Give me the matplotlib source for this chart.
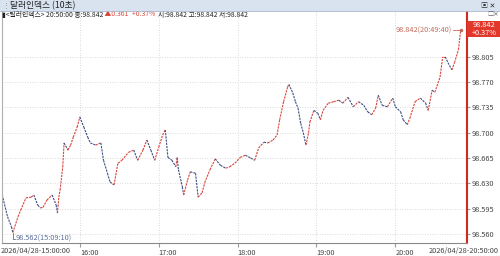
import matplotlib
matplotlib.use('Agg')
import matplotlib.pyplot as plt
from matplotlib.collections import LineCollection
from matplotlib.patches import Rectangle
import numpy as np

plt.rcParams['font.family'] = ['Noto Sans CJK KR', 'DejaVu Sans']

# minutes after 15:00
minutes = [1, 5, 8, 9, 13, 15, 19, 23, 25, 28, 30, 32, 35, 39, 42, 43, 44, 45, 47, 48,
           51, 53, 55, 58, 60, 63, 66, 68, 72, 76, 78, 81, 83, 86, 89, 92, 97, 101, 104, 108,
           111, 114, 117, 120, 123, 125, 127, 130, 133, 134, 135, 138, 139, 142, 144, 148, 150, 153, 155, 159,
           163, 167, 171, 174, 178, 182, 186, 190, 193, 196, 200, 203, 207, 210, 212, 215, 218, 219, 222, 224,
           226, 228, 230, 232, 234, 235, 238, 241, 243, 245, 249, 253, 257, 260, 264, 268, 272, 276, 279, 282,
           285, 287, 290, 294, 298, 300, 304, 306, 309, 311, 315, 319, 323, 325, 328, 330, 334, 336, 338, 340,
           343, 345, 348, 349.67]
prices = [98.614, 98.584, 98.570, 98.562, 98.584, 98.593, 98.610, 98.611, 98.614, 98.600,
          98.596, 98.597, 98.607, 98.614, 98.600, 98.589, 98.611, 98.621, 98.653, 98.686,
          98.676, 98.683, 98.694, 98.708, 98.722, 98.708, 98.694, 98.686, 98.683, 98.686,
          98.662, 98.644, 98.632, 98.628, 98.658, 98.662, 98.673, 98.676, 98.662, 98.676,
          98.690, 98.676, 98.662, 98.680, 98.697, 98.704, 98.666, 98.662, 98.653, 98.666,
          98.649, 98.625, 98.614, 98.635, 98.646, 98.644, 98.611, 98.617, 98.631, 98.649,
          98.664, 98.655, 98.651, 98.653, 98.658, 98.666, 98.669, 98.665, 98.662, 98.679,
          98.687, 98.686, 98.690, 98.697, 98.718, 98.743, 98.763, 98.767, 98.755, 98.743,
          98.734, 98.713, 98.700, 98.683, 98.700, 98.715, 98.731, 98.727, 98.718, 98.731,
          98.741, 98.743, 98.745, 98.741, 98.749, 98.736, 98.743, 98.738, 98.729, 98.725,
          98.734, 98.752, 98.738, 98.736, 98.748, 98.736, 98.729, 98.718, 98.711, 98.720,
          98.743, 98.748, 98.741, 98.731, 98.759, 98.756, 98.777, 98.805, 98.805, 98.797,
          98.787, 98.797, 98.815, 98.842]

hour_ticks = [60, 120, 180, 240, 300]
hour_labels = ['16:00', '17:00', '18:00', '19:00', '20:00']
y_ticks = [98.560, 98.595, 98.630, 98.665, 98.700, 98.735, 98.770, 98.805]

red = '#d9443a'
blue = '#3d4f86'
grey = '#9a9a9a'

fig = plt.figure(figsize=(5, 2.56), dpi=100)
fig.patch.set_facecolor('white')

# title bar
fig.patches.append(Rectangle((0, 1 - 11 / 256), 1, 11 / 256, transform=fig.transFigure,
                             facecolor='#d8e3ef', edgecolor='none'))
fig.add_artist(plt.Line2D([0, 1], [1 - 11 / 256] * 2, transform=fig.transFigure, color='#a8b8cc', lw=0.6))
fig.text(0.006, 1 - 5.5 / 256, '⋮', fontsize=5, color='#7a8a9a', va='center')
fig.text(0.02, 1 - 5.5 / 256, '달러인덱스 (10초)', fontsize=6.3, color='#222222', va='center')
fig.text(0.962, 1 - 5.5 / 256, '▣ ✕', fontsize=5, color='#333333', va='center')

ax = fig.add_axes([2 / 500, 13 / 256, 465 / 500, 233 / 256])
ax.set_xlim(0.8, 354.5)
ax.set_ylim(98.5476, 98.8698)

x = np.array(minutes)
y = np.array(prices)
pts = np.column_stack([x, y]).reshape(-1, 1, 2)
segs = np.concatenate([pts[:-1], pts[1:]], axis=1)
cols = [red if y[i + 1] >= y[i] else blue for i in range(len(y) - 1)]
lc = LineCollection(segs, colors=cols, linewidths=0.8, linestyles=(0, (2.0, 0.9)))
ax.add_collection(lc)

# grid
for t in hour_ticks:
    ax.axvline(t, color='#cfcfcf', lw=0.6, ls=(0, (1, 2)), zorder=0)
for v in y_ticks:
    ax.axhline(v, color='#cfcfcf', lw=0.6, ls=(0, (1, 2)), zorder=0)

ax.yaxis.tick_right()
ax.set_yticks(y_ticks)
ax.set_yticklabels([f'{v:.3f}' for v in y_ticks], fontsize=5.3, color='#444444')
ax.tick_params(axis='y', length=2, pad=1.5, color=grey)
ax.set_xticks(hour_ticks)
ax.set_xticklabels(hour_labels, fontsize=5.3, color='#444444', ha='left')
ax.tick_params(axis='x', length=3, pad=1, color=grey)

ax.spines['top'].set_visible(False)
ax.spines['left'].set_color('#b0b0b0')
ax.spines['bottom'].set_color('#8a8a8a')
ax.spines['right'].set_color('#d02a20')
ax.spines['right'].set_linewidth(1.5)

fig.text(0.002, 1 - 251 / 256, '2026/04/28-15:00:00', fontsize=5.3, color='#444444', va='center')
fig.text(0.997, 1 - 251 / 256, '2026/04/28-20:50:00', fontsize=5.3, color='#444444', va='center', ha='right')

# info line, pieces chained one after another
iy = 1 - 14.5 / 256
t0 = fig.text(0.004, iy, '▮<달러인덱스> 20:50:00 종:98.842', fontsize=4.9, color='#222222', va='center')
t1 = ax.annotate(' ▲0.361', xy=(1, 0.5), xycoords=t0, va='center', fontsize=4.9, color=red,
                 annotation_clip=False)
t2 = ax.annotate('  +0.37%', xy=(1, 0.5), xycoords=t1, va='center', fontsize=4.9, color=red,
                 annotation_clip=False)
ax.annotate('  시:98.842 고:98.842 저:98.842', xy=(1, 0.5), xycoords=t2, va='center',
            fontsize=4.9, color='#222222', annotation_clip=False)
fig.text(0.975, iy, '□✕', fontsize=4.5, color='#666666', va='center')

# last value annotation
ax.plot([343.5, minutes[-1]], [prices[-1], prices[-1]], color='#c56a5a', lw=0.6)
ax.plot([minutes[-1]], [prices[-1]], marker='o', ms=1.5, color='#c56a5a')
ax.text(343, prices[-1], '98.842(20:49:40)', fontsize=5.3, color='#c56a5a', ha='right', va='center')

# min annotation
ax.plot([9, 9, 10.5], [98.562, 98.5535, 98.5535], color='#5a6e9a', lw=0.6)
ax.text(10.8, 98.5535, '98.562(15:09:10)', fontsize=5.3, color='#5a6e9a', va='center')

# last price box
fig.patches.append(Rectangle((467 / 500, 1 - 37 / 256), 33 / 500, 16 / 256, transform=fig.transFigure,
                             facecolor='#e2382c', edgecolor='none'))
fig.text(484 / 500, 1 - 29 / 256, '98.842\n+0.37%', fontsize=5.3, color='white',
         ha='center', va='center', linespacing=0.95)

fig.savefig('out.png', dpi=100)
